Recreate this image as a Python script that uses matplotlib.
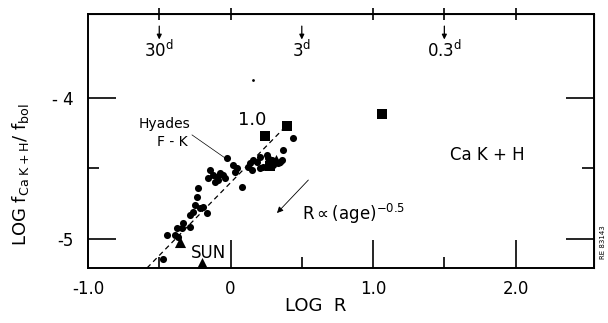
import numpy as np
import matplotlib.pyplot as plt

# filled circles (LOG R, LOG f_CaKH/f_bol)
dot_r = [0.439, 0.368, 0.256, 0.263, 0.291, 0.312, 0.347, 0.361, 0.333, 0.298,
         0.207, 0.186, 0.158, 0.137, 0.123, 0.151, 0.207, 0.228, -0.025, 0.018,
         0.046, 0.032, 0.081, -0.144, -0.123, -0.095, -0.074, -0.053, -0.039, -0.109,
         -0.088, -0.158, -0.228, -0.235, -0.249, -0.214, -0.193, -0.165, -0.263, -0.284,
         -0.333, -0.340, -0.284, -0.375, -0.446, -0.389, -0.368, -0.474]
dot_f = [-4.284, -4.369, -4.404, -4.426, -4.440, -4.454, -4.454, -4.440, -4.461, -4.475,
         -4.418, -4.454, -4.440, -4.461, -4.489, -4.511, -4.496, -4.489, -4.426, -4.475,
         -4.496, -4.525, -4.631, -4.511, -4.546, -4.560, -4.532, -4.546, -4.567, -4.596,
         -4.582, -4.567, -4.638, -4.702, -4.759, -4.780, -4.773, -4.816, -4.809, -4.830,
         -4.887, -4.922, -4.915, -4.922, -4.972, -4.972, -4.986, -5.142]

sq_r = [0.242, 0.396, 0.277, 1.063]
sq_f = [-4.270, -4.199, -4.482, -4.113]

tri_r = [0.319, -0.354, -0.200]
tri_f = [-4.440, -5.021, -5.170]

# rotation periods marked on top axis
per_r = [-0.5, 0.5, 1.5]
per_lab = ['30', '3', '0.3']

xticks = [-1.0, 0.0, 1.0, 2.0]
xlabs = ['-1.0', '0', '1.0', '2.0']
yticks = [-5, -4]
ylabs = ['-5', '- 4']

plt.rcParams['font.family'] = ['DejaVu Sans']
fig = plt.figure(figsize=(6.08, 3.23), dpi=100)
ax = fig.add_axes([0.1447, 0.1703, 0.977 - 0.1447, 0.9567 - 0.1703])
ax.set_xlim(-1.0, 2.55)
ax.set_ylim(-5.206, -3.404)

for s in ax.spines.values():
    s.set_linewidth(1.4)

ax.scatter(dot_r, dot_f, s=26, c='black', marker='o', linewidths=0, zorder=3)
ax.scatter(sq_r, sq_f, s=48, c='black', marker='s', linewidths=0, zorder=3)
ax.scatter(tri_r, tri_f, s=64, c='black', marker='^', linewidths=0, zorder=3)
ax.scatter([0.158], [-3.872], s=4, c='black', linewidths=0)

# slope line
ax.plot([-0.586, 0.404], [-5.206, -4.184], ls=(0, (4, 3)), color='black', lw=0.9)

ax.set_xticks(xticks)
ax.set_xticklabels(xlabs)
ax.set_xticks([-0.5, 0.5, 1.5], minor=True)
ax.set_yticks(yticks)
ax.set_yticklabels(ylabs)
ax.set_yticks([-4.5], minor=True)
ax.tick_params(which='major', direction='in', length=20, width=1.2, labelsize=12, pad=9)
ax.tick_params(axis='y', which='major', pad=10)
ax.tick_params(which='minor', direction='in', length=8, width=1.2)

top = ax.secondary_xaxis('top')
top.set_xticks([-0.5, 0.0, 1.0, 1.5, 2.0])
top.tick_params(direction='inout', length=9, width=1.2, labeltop=False)
right = ax.secondary_yaxis('right')
right.set_yticks([-5, -4])
right.set_yticks([-4.5], minor=True)
right.tick_params(which='major', direction='in', length=20, width=1.2, labelright=False)
right.tick_params(which='minor', direction='in', length=9, width=1.2)

for r, lab in zip(per_r, per_lab):
    ax.annotate('', xy=(r, -3.585), xytext=(r, -3.49),
                arrowprops=dict(arrowstyle='-|>', color='black', lw=0.9,
                                mutation_scale=7, shrinkA=0, shrinkB=0))
    ax.text(r, -3.66, lab + r'$^{\rm d}$', ha='center', va='center', fontsize=12)

ax.text(0.153, -4.156, '1.0', ha='center', va='center', fontsize=13)
ax.text(-0.46, -4.185, 'Hyades', ha='center', va='center', fontsize=10)
ax.text(-0.41, -4.31, 'F - K', ha='center', va='center', fontsize=10)
ax.plot([-0.27, -0.018], [-4.262, -4.44], color='black', lw=0.5)
ax.text(-0.156, -5.099, 'SUN', ha='center', va='center', fontsize=12)
ax.text(1.80, -4.404, 'Ca K + H', ha='center', va='center', fontsize=12)
ax.annotate('', xy=(0.326, -4.816), xytext=(0.546, -4.582),
            arrowprops=dict(arrowstyle='-|>', color='black', lw=0.6,
                            mutation_scale=9, shrinkA=0, shrinkB=0))
ax.text(0.50, -4.825, r'R$\propto$(age)$^{-0.5}$', ha='left', va='center', fontsize=12)

ax.set_xlabel('LOG  R', fontsize=13, labelpad=4)
ax.xaxis.set_label_coords(0.449, -0.115)
fig.text(0.033, 0.46, r'LOG f$_{\rm Ca\ K+H}$/ f$_{\rm bol}$', rotation=90,
         ha='center', va='center', fontsize=13)
fig.text(0.992, 0.25, 'RE 83143', rotation=90, ha='center', va='center', fontsize=5)

fig.savefig('out.png', dpi=100)
